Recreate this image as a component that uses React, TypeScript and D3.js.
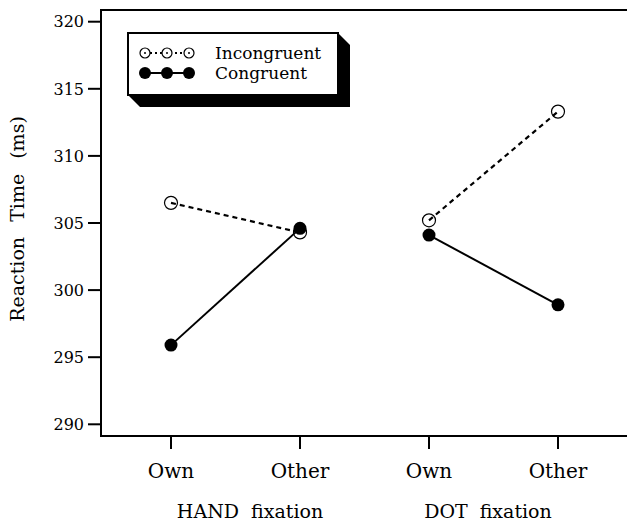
import React from "react";
import * as d3 from "d3";

const conditions = ["HAND-Own", "HAND-Other", "DOT-Own", "DOT-Other"];
const tickLabels = ["Own", "Other", "Own", "Other"];
const groups = ["HAND fixation", "DOT fixation"];
const incongruent = [306.5, 304.3, 305.2, 313.3];
const congruent = [295.9, 304.6, 304.1, 298.9];
const yTicks = [290, 295, 300, 305, 310, 315, 320];
const seriesNames = ["Incongruent", "Congruent"];

const FONT = "'DejaVu Serif', serif";

export default function App() {
  const W = 627, H = 524;
  const axisX = 101, axisBottom = 436, axisTop = 10;
  const y = d3.scaleLinear().domain([290, 320]).range([424.3, 21.7]);
  const x = d3.scalePoint<string>().domain(conditions).range([171, 558]);

  const pairs = [[0, 1], [2, 3]];
  const line = d3.line<[number, number]>().x(d => d[0]).y(d => d[1]);

  const seg = (vals: number[], a: number, b: number) =>
    line([[x(conditions[a])!, y(vals[a])], [x(conditions[b])!, y(vals[b])]]) || "";

  const groupCenters = [250, 488];

  // legend
  const lx = 128, ly = 33, lw = 210, lh = 62, off = 12;
  const legendXs = [145, 167, 189];
  const legendYs = [53, 73];

  return (
    <svg width={W} height={H} style={{ position: "absolute", left: 0, top: 0, background: "#fff" }}>
      <rect width={W} height={H} fill="#fff" />
      {/* axes / frame */}
      <line x1={axisX} y1={axisTop} x2={axisX} y2={axisBottom} stroke="#000" strokeWidth={2} />
      <line x1={axisX - 1} y1={axisTop} x2={W} y2={axisTop} stroke="#000" strokeWidth={2} />
      <line x1={axisX - 1} y1={axisBottom} x2={W} y2={axisBottom} stroke="#000" strokeWidth={2} />
      {yTicks.map(t => (
        <g key={t}>
          <line x1={axisX - 13} x2={axisX} y1={y(t)} y2={y(t)} stroke="#000" strokeWidth={2} />
          <text x={84} y={y(t)} dy="0.36em" textAnchor="end" fontFamily={FONT} fontSize={16} fill="#000">{t}</text>
        </g>
      ))}
      {conditions.map((c, i) => (
        <g key={c}>
          <line x1={x(c)} x2={x(c)} y1={axisBottom} y2={axisBottom + 13} stroke="#000" strokeWidth={2} />
          <text x={x(c)} y={478} textAnchor="middle" fontFamily={FONT} fontSize={20} fill="#000">{tickLabels[i]}</text>
        </g>
      ))}
      {groups.map((g, i) => (
        <text key={g} x={groupCenters[i]} y={518} textAnchor="middle" fontFamily={FONT} fontSize={19} wordSpacing={6} fill="#000">{g}</text>
      ))}
      <text transform={`translate(24,219) rotate(-90)`} textAnchor="middle" fontFamily={FONT} fontSize={19} wordSpacing={9} fill="#000">Reaction Time (ms)</text>

      {/* data lines */}
      {pairs.map(([a, b], i) => (
        <path key={"s" + i} d={seg(congruent, a, b)} stroke="#000" strokeWidth={2} fill="none" />
      ))}
      {incongruent.map((v, i) => (
        <circle key={"i" + i} cx={x(conditions[i])} cy={y(v)} r={6.5} fill="none" stroke="#000" strokeWidth={1.2} />
      ))}
      {pairs.map(([a, b], i) => (
        <path key={"d" + i} d={seg(incongruent, a, b)} stroke="#000" strokeWidth={2.2} strokeDasharray="5,4" fill="none" />
      ))}
      {congruent.map((v, i) => (
        <circle key={"c" + i} cx={x(conditions[i])} cy={y(v)} r={6.5} fill="#000" />
      ))}

      {/* legend */}
      <polygon
        points={`${lx + lw},${ly} ${lx + lw + off},${ly + off} ${lx + lw + off},${ly + lh + off} ${lx + off},${ly + lh + off} ${lx},${ly + lh}`}
        fill="#000"
      />
      <rect x={lx} y={ly} width={lw} height={lh} fill="#fff" stroke="#000" strokeWidth={2} />
      <line x1={legendXs[0]} x2={legendXs[2]} y1={legendYs[0]} y2={legendYs[0]} stroke="#000" strokeWidth={2} strokeDasharray="2,3" />
      {legendXs.map((lxp, i) => (
        <g key={"lx" + i}>
          <circle cx={lxp} cy={legendYs[0]} r={5} fill="#fff" stroke="#000" strokeWidth={1.2} />
          <circle cx={lxp} cy={legendYs[0]} r={1} fill="#000" />
        </g>
      ))}
      <line x1={legendXs[0]} x2={legendXs[2]} y1={legendYs[1]} y2={legendYs[1]} stroke="#000" strokeWidth={2} />
      {legendXs.map((lxp, i) => (
        <circle key={"lc" + i} cx={lxp} cy={legendYs[1]} r={6} fill="#000" />
      ))}
      {seriesNames.map((n, i) => (
        <text key={n} x={215} y={legendYs[i]} dy="0.36em" fontFamily={FONT} fontSize={17} fill="#000">{n}</text>
      ))}
    </svg>
  );
}
